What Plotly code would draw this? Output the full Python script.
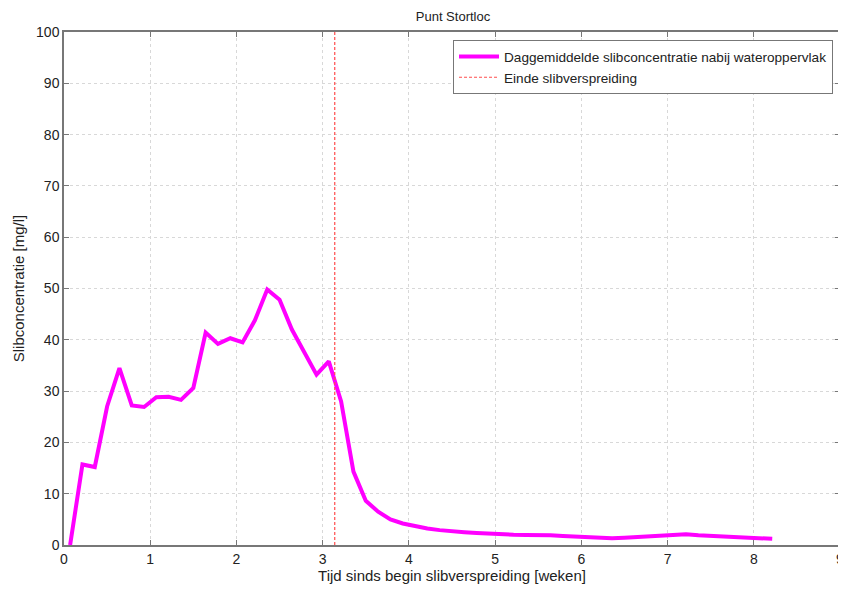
import plotly.graph_objects as go

weeks = [0.071, 0.214, 0.357, 0.5, 0.643, 0.786, 0.929, 1.071, 1.214, 1.357,
         1.5, 1.643, 1.786, 1.929, 2.071, 2.214, 2.357, 2.5, 2.643, 2.786,
         2.929, 3.071, 3.214, 3.357, 3.5, 3.643, 3.786, 3.929, 4.071, 4.214,
         4.357, 4.5, 4.643, 4.786, 4.929, 5.071, 5.214, 5.357, 5.5, 5.643,
         5.786, 5.929, 6.071, 6.214, 6.357, 6.5, 6.643, 6.786, 6.929, 7.071,
         7.214, 7.357, 7.5, 7.643, 7.786, 7.929, 8.071, 8.214]
conc = [0, 15.7, 15.2, 27, 34.5, 27.2, 26.9, 28.8, 28.9, 28.3,
        30.6, 41.4, 39.2, 40.3, 39.5, 43.8, 49.8, 47.8, 42, 37.5,
        33.2, 35.8, 28, 14.3, 8.6, 6.5, 5.0, 4.2, 3.7, 3.2,
        2.9, 2.65, 2.5, 2.35, 2.2, 2.1, 2.0, 1.95, 2.0, 1.9,
        1.75, 1.6, 1.5, 1.4, 1.3, 1.4, 1.55, 1.7, 1.9, 2.0,
        2.1, 1.9, 1.8, 1.65, 1.5, 1.35, 1.3, 1.2]
end_x = [3.14, 3.14]
end_y = [0, 100]

fnt = "Liberation Sans, Arial, sans-serif"

fig = go.Figure()
fig.add_trace(go.Scatter(x=weeks, y=conc, mode="lines",
                         line=dict(color="#ff00ff", width=4),
                         name="Daggemiddelde slibconcentratie nabij wateroppervlak"))
fig.add_trace(go.Scatter(x=end_x, y=end_y, mode="lines",
                         line=dict(color="#ff4d4d", width=1.2, dash="3px,2px"),
                         name="Einde slibverspreiding"))

axis_common = dict(showline=True, linecolor="#777777", linewidth=1.5, mirror="ticks",
                   ticks="inside", ticklen=5, tickcolor="#777777",
                   showgrid=True, gridcolor="#d8d8d8", griddash="dot", gridwidth=1,
                   zeroline=False, automargin=False,
                   tickfont=dict(family=fnt, size=14, color="#222222"))

fig.update_layout(
    width=846, height=590,
    margin=dict(l=56, r=14, t=24, b=53, autoexpand=False),
    paper_bgcolor="white", plot_bgcolor="white",
    title=dict(text="Punt Stortloc", x=0.526, xanchor="center", y=0.985, yanchor="middle",
               font=dict(family=fnt, size=13, color="#222222")),
    xaxis=dict(range=[0, 9], dtick=1, tick0=0,
               title=dict(text="Tijd sinds begin slibverspreiding [weken]", standoff=4,
                          font=dict(family=fnt, size=15, color="#222222")),
               **axis_common),
    yaxis=dict(range=[0, 100], dtick=10, tick0=0,
               title=dict(text="Slibconcentratie [mg/l]", standoff=8,
                          font=dict(family=fnt, size=15, color="#222222")),
               **axis_common),
    legend=dict(x=0.991, y=0.984, xanchor="right", yanchor="top",
                bgcolor="white", bordercolor="#777777", borderwidth=1,
                font=dict(family=fnt, size=13.6, color="#222222"),
                tracegroupgap=0, itemwidth=40),
    showlegend=True,
)

fig.write_html("out.html")
